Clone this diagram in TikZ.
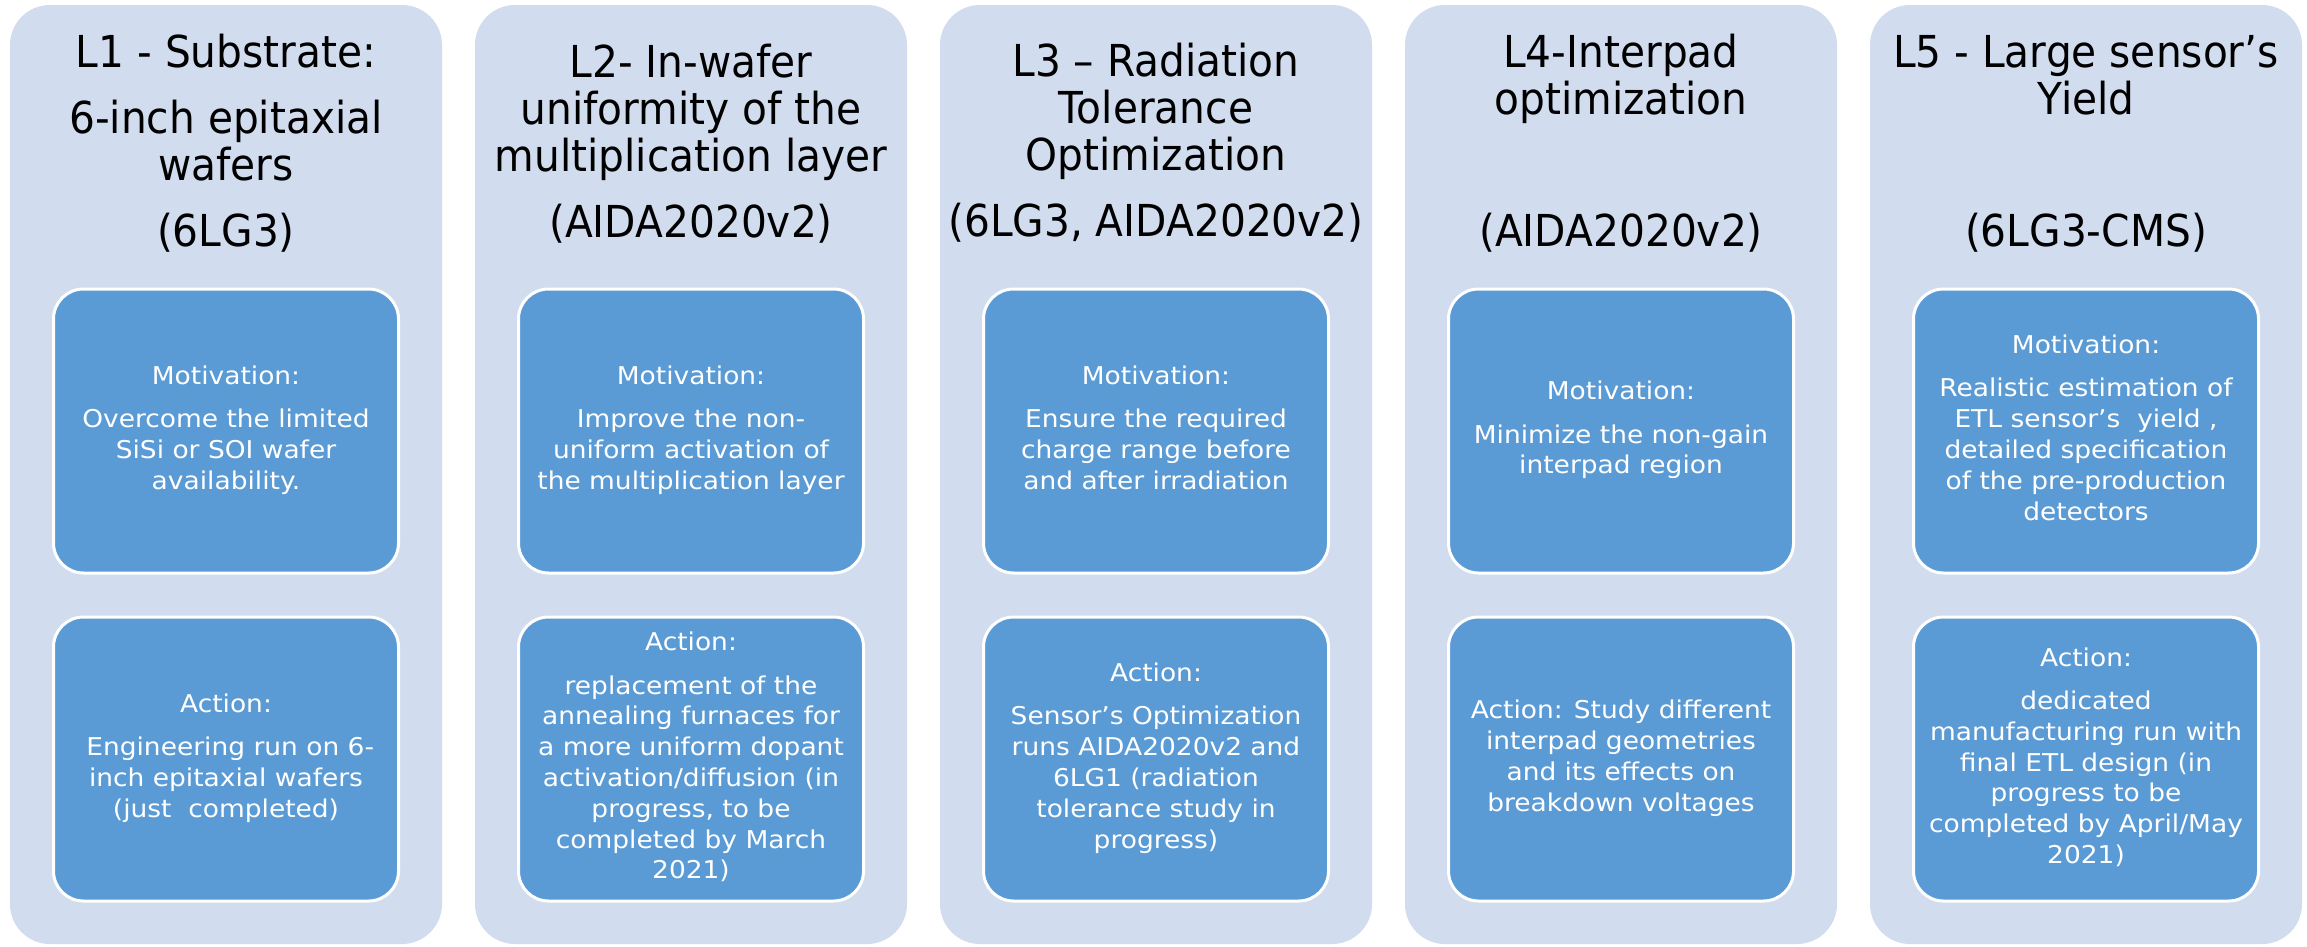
\documentclass[tikz,border=0pt]{standalone}
\usepackage{fontspec}
\newfontfamily\hdfont{DejaVu Sans}[FakeStretch=0.925]
\newfontfamily\bxfont{DejaVu Sans}[FakeStretch=1.08]
\definecolor{outerfill}{HTML}{D1DCEE}
\definecolor{innerfill}{HTML}{5B9BD5}
\begin{document}
\begin{tikzpicture}[x=1pt,y=-1pt,
  colbox/.style={draw=none, fill=outerfill, rounded corners=40pt, minimum width=432pt, minimum height=939pt, inner sep=0pt},
  innerbox/.style={draw=white, line width=3pt, fill=innerfill, rounded corners=30pt, minimum width=345pt, minimum height=284pt, inner sep=0pt, text=white, align=center, font=\bxfont\fontsize{24.5}{30.8}\selectfont, execute at begin node={\vrule width 0pt height 24pt depth 0pt}, execute at end node={\vrule width 0pt height 0pt depth 7pt}},
  header/.style={align=center, text=black, inner sep=0pt, font=\hdfont\fontsize{44}{47}\selectfont, execute at begin node={\vrule width 0pt height 40pt depth 0pt}, execute at end node={\vrule width 0pt height 0pt depth 20pt}}]
\useasboundingbox (0,0) rectangle (2307,946);
\fill[white] (0,0) rectangle (2307,946);

% columns
\node[colbox] (c1) at (226,474.5) {};
\node[colbox] (c2) at (691,474.5) {};
\node[colbox] (c3) at (1156,474.5) {};
\node[colbox] (c4) at (1621,474.5) {};
\node[colbox] (c5) at (2086,474.5) {};

% headers
\node[header] (h1) at (226,150.5) {L1 - Substrate:\\[19pt]6-inch epitaxial\\wafers\\[19pt](6LG3)};
\node[header] (h2) at (691,151) {L2- In-wafer\\uniformity of the\\multiplication layer\\[19pt](AIDA2020v2)};
\node[header] (h3) at (1156,150) {L3 – Radiation\\Tolerance\\Optimization\\[19pt](6LG3, AIDA2020v2)};
\node[header] (h4) at (1621,150.5) {L4-Interpad\\optimization\\[19pt]\mbox{}\\[19pt](AIDA2020v2)};
\node[header] (h5) at (2086,151) {L5 - Large sensor’s\\Yield\\[19pt]\mbox{}\\[19pt](6LG3-CMS)};

% motivation boxes
\node[innerbox] (m1) at (226,431) {Motivation:\\[12.5pt]Overcome the limited\\SiSi or SOI wafer\\availability.};
\node[innerbox] (m2) at (691,431) {Motivation:\\[12.5pt]Improve the non-\\uniform activation of\\the multiplication layer};
\node[innerbox] (m3) at (1156,431) {Motivation:\\[12.5pt]Ensure the required\\charge range before\\and after irradiation};
\node[innerbox] (m4) at (1621,431) {Motivation:\\[12.5pt]Minimize the non-gain\\interpad region};
\node[innerbox] (m5) at (2086,431) {Motivation:\\[12.5pt]Realistic estimation of\\ETL sensor’s\ \ yield ,\\detailed specification\\of the pre-production\\detectors};

% action boxes
\node[innerbox] (a1) at (226,759) {Action:\\[12.5pt]\ Engineering run on 6-\\inch epitaxial wafers\\(just\ \ completed)};
\node[innerbox] (a2) at (691,759) {Action:\\[12.5pt]replacement of the\\annealing furnaces for\\a more uniform dopant\\activation/diffusion (in\\progress, to be\\completed by March\\2021)};
\node[innerbox] (a3) at (1156,759) {Action:\\[12.5pt]Sensor’s Optimization\\runs AIDA2020v2 and\\6LG1 (radiation\\tolerance study in\\progress)};
\node[innerbox] (a4) at (1621,759) {Action: Study different\\interpad geometries\\and its effects on\\breakdown voltages};
\node[innerbox] (a5) at (2086,759) {Action:\\[12.5pt]dedicated\\manufacturing run with\\final ETL design (in\\progress to be\\completed by April/May\\2021)};
\end{tikzpicture}
\end{document}
